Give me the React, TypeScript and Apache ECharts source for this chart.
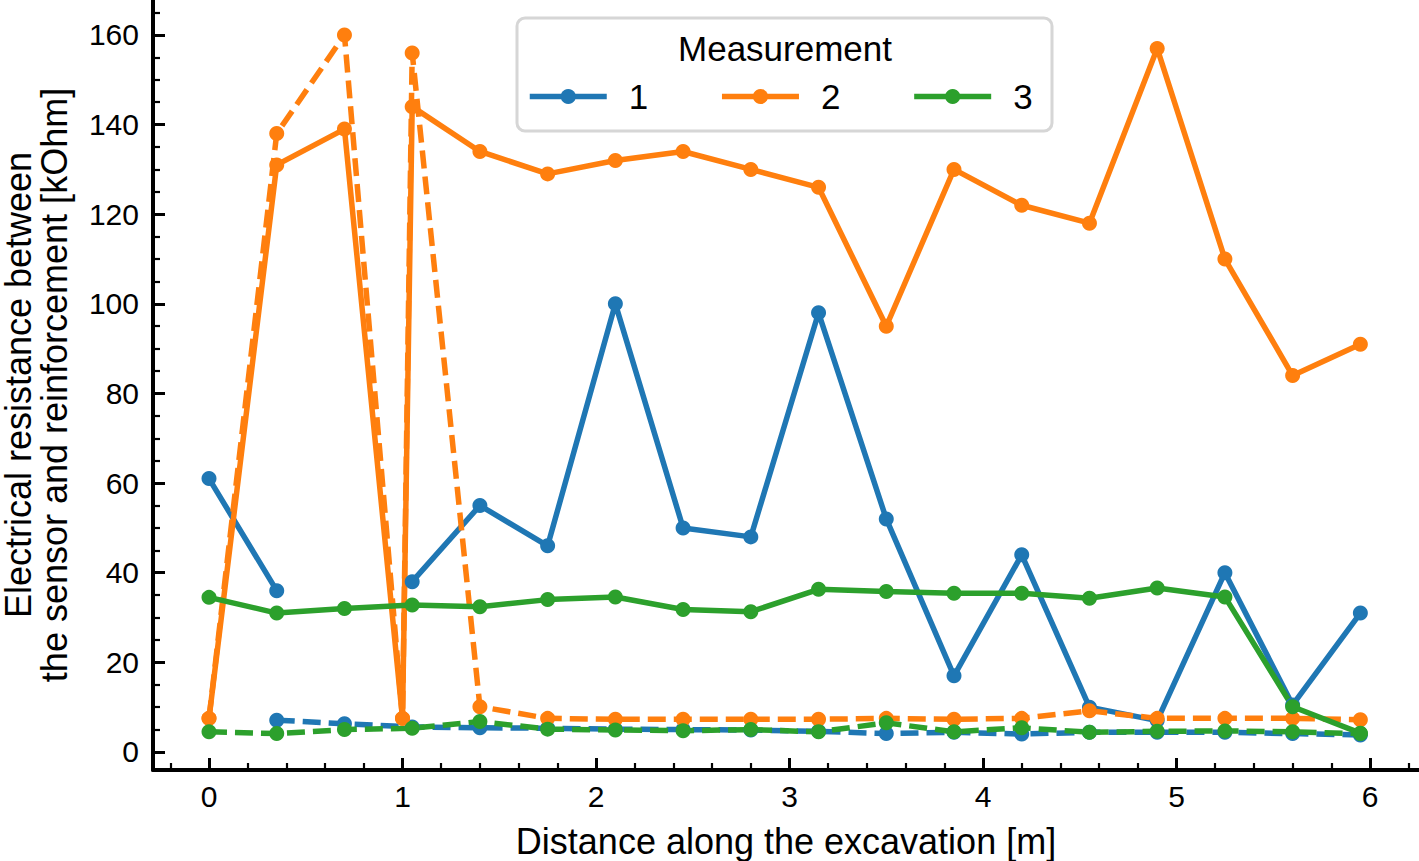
import React, { useEffect, useRef } from "react";
import * as echarts from "echarts";

// Distance along the excavation [m]
const xPositions = [0, 0.35, 0.7, 1.0, 1.05, 1.4, 1.75, 2.1, 2.45, 2.8, 3.15, 3.5, 3.85, 4.2, 4.55, 4.9, 5.25, 5.6, 5.95];

// Measurement 1
const m1Solid = [61, 36, null, null, 38, 55, 46, 100, 50, 48, 98, 52, 17, 44, 10, 7, 40, 10.5, 31];
const m1Dashed = [null, 7.1, 6.3, null, 5.6, 5.4, 5.3, 5.1, 5.0, 4.9, 4.6, 4.1, 4.4, 4.0, 4.4, 4.4, 4.4, 4.1, 3.8];
// Measurement 2
const m2Solid = [7.5, 131, 139, 7.5, 144, 134, 129, 132, 134, 130, 126, 95, 130, 122, 118, 157, 110, 84, 91];
const m2Dashed = [7.5, 138, 160, 7.5, 156, 10.1, 7.5, 7.3, 7.3, 7.3, 7.3, 7.5, 7.3, 7.5, 9.2, 7.5, 7.5, 7.5, 7.2];
// Measurement 3
const m3Solid = [34.5, 31, 32, null, 32.8, 32.4, 34, 34.6, 31.8, 31.3, 36.3, 35.8, 35.4, 35.4, 34.3, 36.6, 34.6, 10.1, 4.2];
const m3Dashed = [4.5, 4.1, 5.0, null, 5.3, 6.8, 5.1, 4.9, 4.75, 5.0, 4.5, 6.5, 4.5, 5.4, 4.4, 4.6, 4.7, 4.5, 4.1];

const legendNames = ["1", "2", "3"];
const colors = ["#1f77b4", "#ff7f0e", "#2ca02c"];

const xMajorTicks = [0, 1, 2, 3, 4, 5, 6];
const xMinorTicks = [-0.2, 0.2, 0.4, 0.6, 0.8, 1.2, 1.4, 1.6, 1.8, 2.2, 2.4, 2.6, 2.8, 3.2, 3.4, 3.6, 3.8, 4.2, 4.4, 4.6, 4.8, 5.2, 5.4, 5.6, 5.8, 6.2];
const yMajorTicks = [0, 20, 40, 60, 80, 100, 120, 140, 160];
const yMinorTicks = [5, 10, 15, 25, 30, 35, 45, 50, 55, 65, 70, 75, 85, 90, 95, 105, 110, 115, 125, 130, 135, 145, 150, 155, 165];

const X_MIN = -0.2894;
const X_MAX = 6.253;
const Y_MIN = -4.02;
const Y_MAX = 167.8;

const FONT = "'Liberation Sans', Arial, Helvetica, sans-serif";

function pairs(values: (number | null)[], keepGaps: boolean) {
  const out: any[] = [];
  values.forEach((v, i) => {
    if (v == null) {
      if (keepGaps) out.push([xPositions[i], "-"]);
    } else {
      out.push([xPositions[i], v]);
    }
  });
  return out;
}

function makeSeries(name: string, values: (number | null)[], color: string, dashed: boolean, keepGaps: boolean) {
  return {
    type: "line",
    name,
    data: pairs(values, keepGaps),
    xAxisIndex: 0,
    yAxisIndex: 0,
    connectNulls: !keepGaps,
    symbol: "circle",
    symbolSize: 15,
    showSymbol: true,
    color,
    itemStyle: { color },
    lineStyle: { color, width: 5.5, type: dashed ? [18, 8] : "solid" },
    emphasis: { disabled: true },
    z: 3,
  };
}

export default function App() {
  const ref = useRef<HTMLDivElement>(null);

  useEffect(() => {
    if (!ref.current) return;
    const chart = echarts.init(ref.current, undefined, { renderer: "svg" });

    const axisCommon = {
      splitLine: { show: false },
    };

    const option: any = {
      animation: false,
      backgroundColor: "#ffffff",
      textStyle: { fontFamily: FONT },
      grid: {
        left: 153,
        right: 0,
        top: 0,
        bottom: 91,
        containLabel: false,
        outerBoundsMode: "none",
      },
      xAxis: [
        {
          ...axisCommon,
          type: "value",
          min: X_MIN,
          max: X_MAX,
          position: "bottom",
          axisLine: { show: true, onZero: false, lineStyle: { color: "#000", width: 4 } },
          axisTick: {
            show: true,
            inside: true,
            length: 12,
            lineStyle: { color: "#000", width: 3 },
            customValues: xMajorTicks,
          },
          axisLabel: {
            show: true,
            margin: 11,
            fontSize: 30,
            fontFamily: FONT,
            color: "#000",
            customValues: xMajorTicks,
          },
          name: "Distance along the excavation [m]",
          nameLocation: "middle",
          nameGap: 53,
          nameTextStyle: { fontSize: 36, fontFamily: FONT, color: "#000" },
        },
        {
          ...axisCommon,
          type: "value",
          min: X_MIN,
          max: X_MAX,
          position: "bottom",
          axisLine: { show: false, onZero: false },
          axisTick: {
            show: true,
            inside: true,
            length: 7,
            lineStyle: { color: "#000", width: 2.2 },
            customValues: xMinorTicks,
          },
          axisLabel: { show: false },
        },
      ],
      yAxis: [
        {
          ...axisCommon,
          type: "value",
          min: Y_MIN,
          max: Y_MAX,
          position: "left",
          axisLine: { show: true, onZero: false, lineStyle: { color: "#000", width: 4 } },
          axisTick: {
            show: true,
            inside: true,
            length: 12,
            lineStyle: { color: "#000", width: 3 },
            customValues: yMajorTicks,
          },
          axisLabel: {
            show: true,
            margin: 14,
            fontSize: 30,
            fontFamily: FONT,
            color: "#000",
            customValues: yMajorTicks,
          },
          name: "Electrical resistance between\nthe sensor and reinforcement [kOhm]",
          nameLocation: "middle",
          nameGap: 81,
          nameTextStyle: { fontSize: 36, lineHeight: 36, fontFamily: FONT, color: "#000", align: "center" },
        },
        {
          ...axisCommon,
          type: "value",
          min: Y_MIN,
          max: Y_MAX,
          position: "left",
          axisLine: { show: false, onZero: false },
          axisTick: {
            show: true,
            inside: true,
            length: 7,
            lineStyle: { color: "#000", width: 2.2 },
            customValues: yMinorTicks,
          },
          axisLabel: { show: false },
        },
      ],
      legend: {
        data: legendNames,
        orient: "horizontal",
        left: 527,
        top: 79,
        padding: 0,
        itemWidth: 77,
        itemHeight: 19,
        itemGap: 71,
        selectedMode: false,
        lineStyle: { width: 5.5 },
        textStyle: { fontSize: 35, lineHeight: 35, fontFamily: FONT, color: "#000", padding: [0, 0, 0, 17] },
        z: 20,
      },
      graphic: [
        {
          type: "rect",
          z: 10,
          shape: { x: 517, y: 18, width: 535, height: 113, r: 8 },
          style: { fill: "rgba(255,255,255,0.8)", stroke: "#d6d6d6", lineWidth: 3 },
        },
        {
          type: "text",
          z: 11,
          x: 785,
          y: 48,
          style: {
            text: "Measurement",
            fontSize: 35,
            fontFamily: FONT,
            fill: "#000",
            align: "center",
            verticalAlign: "middle",
          },
        },
      ],
      series: [
        makeSeries("1", m1Solid, colors[0], false, true),
        makeSeries("1 (dashed)", m1Dashed, colors[0], true, false),
        makeSeries("2", m2Solid, colors[1], false, false),
        makeSeries("2 (dashed)", m2Dashed, colors[1], true, false),
        makeSeries("3", m3Solid, colors[2], false, false),
        makeSeries("3 (dashed)", m3Dashed, colors[2], true, false),
      ],
    };

    chart.setOption(option);
    return () => {
      chart.dispose();
    };
  }, []);

  return (
    <div
      ref={ref}
      style={{ position: "absolute", left: 0, top: 0, width: 1419, height: 861, background: "#fff" }}
    />
  );
}
